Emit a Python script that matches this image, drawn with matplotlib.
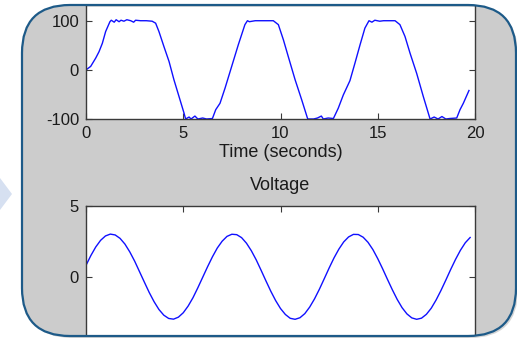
import numpy as np
import matplotlib
matplotlib.use('Agg')
import matplotlib.pyplot as plt
import matplotlib.patches as mpatches
from matplotlib.transforms import IdentityTransform

# upper trace
sigT = [0, 0.24, 0.5, 0.67, 0.84, 1.01, 1.23, 1.3, 1.45, 1.55, 1.7, 1.8, 1.95, 2.1, 2.3, 2.45, 2.55, 2.8, 3.1, 3.4,
        3.58, 3.75, 4.01, 4.27, 4.52, 4.78, 5.04, 5.12, 5.3, 5.4, 5.6, 5.75, 6.0, 6.2, 6.5,
        6.67, 6.89, 7.15, 7.49, 7.83, 8.17, 8.3, 8.4, 8.7, 9.0, 9.3, 9.63,
        9.89, 10.15, 10.4, 10.75, 11.09, 11.4, 11.7, 11.9, 12.1, 12.2, 12.45, 12.72,
        12.97, 13.23, 13.57, 13.83, 14.09, 14.34, 14.55, 14.7, 14.85, 15.1, 15.3, 15.6, 15.89,
        16.14, 16.4, 16.66, 17.0, 17.34, 17.69, 17.9, 18.1, 18.3, 18.5, 18.7, 19.06,
        19.23, 19.4, 19.69]
sigV = [0, 7, 24, 37, 54, 78, 98, 101, 97, 102, 98, 101, 99, 102, 100, 97, 101, 100, 100, 99,
        95, 78, 47, 17, -20, -54, -88, -100, -96, -100, -94, -100, -98, -100, -99,
        -81, -68, -37, 7, 51, 92, 100, 98, 100, 100, 100, 100,
        92, 61, 27, -20, -61, -100, -100, -98, -94, -100, -98, -99,
        -78, -51, -22, 14, 51, 85, 100, 97, 101, 99, 100, 100, 100,
        92, 68, 34, -7, -54, -100, -96, -100, -95, -100, -99, -98,
        -81, -68, -42]

# lower trace: Voltage, sampled every 0.25 s
voltT = np.arange(0, 20, 0.25)
voltV = [0.80, 1.49, 2.09, 2.56, 2.87, 3.00, 2.94, 2.70, 2.30, 1.75, 1.10, 0.36, -0.38, -1.11, -1.76, -2.31,
         -2.71, -2.94, -2.99, -2.85, -2.54, -2.07, -1.48, -0.78, -0.04,
         0.70, 1.40, 2.02, 2.50, 2.84, 2.99, 2.96, 2.75, 2.36, 1.83, 1.19, 0.46, -0.29, -1.02, -1.68,
         -2.24, -2.66, -2.93, -3.00, -2.89, -2.60, -2.14, -1.56, -0.88, -0.14,
         0.61, 1.32, 1.94, 2.45, 2.80, 2.98, 2.97, 2.78, 2.42, 1.91, 1.27, 0.56, -0.19, -0.92, -1.60,
         -2.18, -2.62, -2.90, -3.00, -2.92, -2.65, -2.22, -1.64, -0.97, -0.24, 0.51, 1.22, 1.86, 2.39, 2.76]

xTicks = [0, 5, 10, 15, 20]

plt.rcParams['font.family'] = ['Liberation Sans', 'DejaVu Sans']
plt.rcParams['axes.unicode_minus'] = False
W, H = 517, 338
fig = plt.figure(figsize=(W / 100, H / 100), dpi=100)
fig.patch.set_facecolor('white')

# light blue arrow peeking in at the left
arrow = mpatches.Polygon([(0, 160), (12, 144), (0, 128)], closed=True, transform=IdentityTransform(),
                         facecolor='#d6e0f1', edgecolor='none', zorder=-3)
fig.patches.append(arrow)

# rounded panel
bx, by, bw, bh = 22, 2, 494, 331
shadow = mpatches.FancyBboxPatch((bx + 2, by - 2), bw, bh, boxstyle='round,pad=0,rounding_size=48',
                                 transform=IdentityTransform(), facecolor='#b8b8b8', edgecolor='none',
                                 alpha=0.6, zorder=-3)
box = mpatches.FancyBboxPatch((bx, by), bw, bh, boxstyle='round,pad=0,rounding_size=48',
                              transform=IdentityTransform(), facecolor='#cccccc', edgecolor='none', zorder=-2)
border = mpatches.FancyBboxPatch((bx, by), bw, bh, boxstyle='round,pad=0,rounding_size=48',
                                 transform=IdentityTransform(), facecolor='none', edgecolor='#1d5a88',
                                 linewidth=1.6, zorder=10)
fig.patches.extend([shadow, box, border])

txtc = '#1a1a1a'
spc = '#3a3a3a'

# axes positions in pixels
ax1 = fig.add_axes([86 / W, 1 - 119 / H, 389 / W, 114.5 / H])
ax1.plot(sigT, sigV, color='#1010ff', lw=1.0)
ax1.set_xlim(0, 20)
ax1.set_ylim(-100, 133)
ax1.set_xticks(xTicks)
ax1.set_yticks([-100, 0, 100])
ax1.tick_params(direction='in', top=False, right=True, length=4, width=0.8, color=spc,
                labelsize=12, labelcolor=txtc, pad=5)
ax1.set_xlabel('Time (seconds)', fontsize=13, color=txtc, labelpad=2)

ax2 = fig.add_axes([86 / W, 1 - 347.7 / H, 389 / W, 142 / H])
ax2.plot(voltT, voltV, color='#1010ff', lw=1.0)
ax2.set_xlim(0, 20)
ax2.set_ylim(-5, 5)
ax2.set_xticks(xTicks)
ax2.set_yticks([0, 5])
ax2.tick_params(direction='in', top=True, right=True, length=4, width=0.8, color=spc,
                labelsize=12, labelcolor=txtc, pad=5, labelbottom=False)
ax2.set_title('Voltage', fontsize=13, color=txtc, pad=11.5)

for ax in (ax1, ax2):
    ax.patch.set_clip_path(box)
    for sp in ax.spines.values():
        sp.set_color(spc)
        sp.set_linewidth(1.0)
        sp.set_clip_path(box)
    for ln in ax.lines:
        ln.set_clip_path(box)

fig.savefig('out.png', dpi=100)
